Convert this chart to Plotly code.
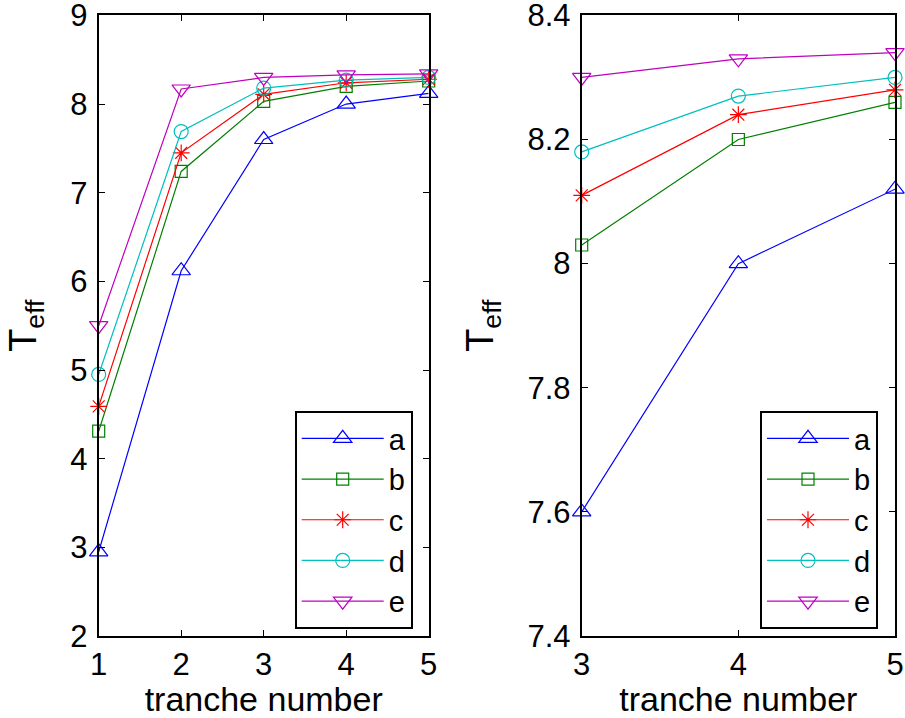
import plotly.graph_objects as go

names = ["a", "b", "c", "d", "e"]
x_left = [1, 2, 3, 4, 5]
left_vals = {
    "a": [2.95, 6.12, 7.60, 8.00, 8.12],
    "b": [4.31, 7.24, 8.03, 8.20, 8.26],
    "c": [4.59, 7.45, 8.11, 8.24, 8.28],
    "d": [4.95, 7.69, 8.18, 8.27, 8.30],
    "e": [5.50, 8.17, 8.30, 8.33, 8.34],
}
x_right = [3, 4, 5]
right_vals = {
    "a": [7.60, 8.00, 8.12],
    "b": [8.03, 8.20, 8.26],
    "c": [8.11, 8.24, 8.28],
    "d": [8.18, 8.27, 8.30],
    "e": [8.30, 8.33, 8.34],
}
colors = {"a": "#0000FF", "b": "#008000", "c": "#FF0000", "d": "#00BFBF", "e": "#BF00BF"}
symbols = {"a": "triangle-up-open", "b": "square-open", "c": "asterisk-open",
           "d": "circle-open", "e": "triangle-down-open"}
sizes = {"a": 16, "b": 12, "c": 14, "d": 14, "e": 16}

FONT = "Liberation Sans, Arial, Helvetica, sans-serif"
fig = go.Figure()
for n in names:
    fig.add_trace(go.Scatter(
        x=x_left, y=left_vals[n], name=n, mode="lines+markers",
        line=dict(color=colors[n], width=1.2),
        marker=dict(symbol=symbols[n], size=sizes[n], color=colors[n],
                    line=dict(color=colors[n], width=1.2)),
        xaxis="x", yaxis="y", legend="legend", cliponaxis=False))
for n in names:
    fig.add_trace(go.Scatter(
        x=x_right, y=right_vals[n], name=n, mode="lines+markers",
        line=dict(color=colors[n], width=1.2),
        marker=dict(symbol=symbols[n], size=sizes[n], color=colors[n],
                    line=dict(color=colors[n], width=1.2)),
        xaxis="x2", yaxis="y2", legend="legend2", cliponaxis=False))

W, H = 905, 718
ytop = 1 - 15.4 / H
ybot = 1 - 636 / H
EPS = 1e-6

axis_common = dict(showline=True, linecolor="black", linewidth=2, mirror="ticks",
                   ticks="inside", ticklen=6, tickwidth=1.2, tickcolor="black",
                   showgrid=False, zeroline=False, automargin=False,
                   ticklabeloverflow="allow",
                   tickfont=dict(family=FONT, size=31, color="black"))
xtitle = dict(text="tranche number", font=dict(family=FONT, size=34), standoff=6)
ytitle = dict(text="T<sub>eff</sub>", font=dict(family=FONT, size=38), standoff=22)

fig.update_layout(
    width=W, height=H, margin=dict(l=0, r=0, t=0, b=0),
    paper_bgcolor="white", plot_bgcolor="white",
    font=dict(family=FONT, color="black"),
    xaxis=dict(domain=[98.7 / W, 428.7 / W], range=[1 - EPS, 5 + EPS], tickvals=[1, 2, 3, 4, 5],
               anchor="y", title=xtitle, **axis_common),
    yaxis=dict(domain=[ybot, ytop], range=[2 - EPS, 9 + EPS], tickvals=[2, 3, 4, 5, 6, 7, 8, 9],
               anchor="x", title=ytitle, ticklabelstandoff=3, **axis_common),
    xaxis2=dict(domain=[581.7 / W, 895 / W], range=[3 - EPS, 5 + EPS], tickvals=[3, 4, 5],
                anchor="y2", title=xtitle, **axis_common),
    yaxis2=dict(domain=[ybot, ytop], range=[7.4 - EPS, 8.4 + EPS],
                tickvals=[7.4, 7.6, 7.8, 8.0, 8.2, 8.4],
                ticktext=["7.4", "7.6", "7.8", "8", "8.2", "8.4"],
                anchor="x2", title=ytitle, ticklabelstandoff=3, **axis_common),
    legend=dict(x=294.7 / W, y=1 - 411 / H, xanchor="left", yanchor="top",
                bordercolor="black", borderwidth=2, bgcolor="white",
                font=dict(family=FONT, size=29, color="black"), itemwidth=82,
                tracegroupgap=0),
    legend2=dict(x=760 / W, y=1 - 411 / H, xanchor="left", yanchor="top",
                 bordercolor="black", borderwidth=2, bgcolor="white",
                 font=dict(family=FONT, size=29, color="black"), itemwidth=82,
                 tracegroupgap=0),
)
fig.write_html("out.html")
